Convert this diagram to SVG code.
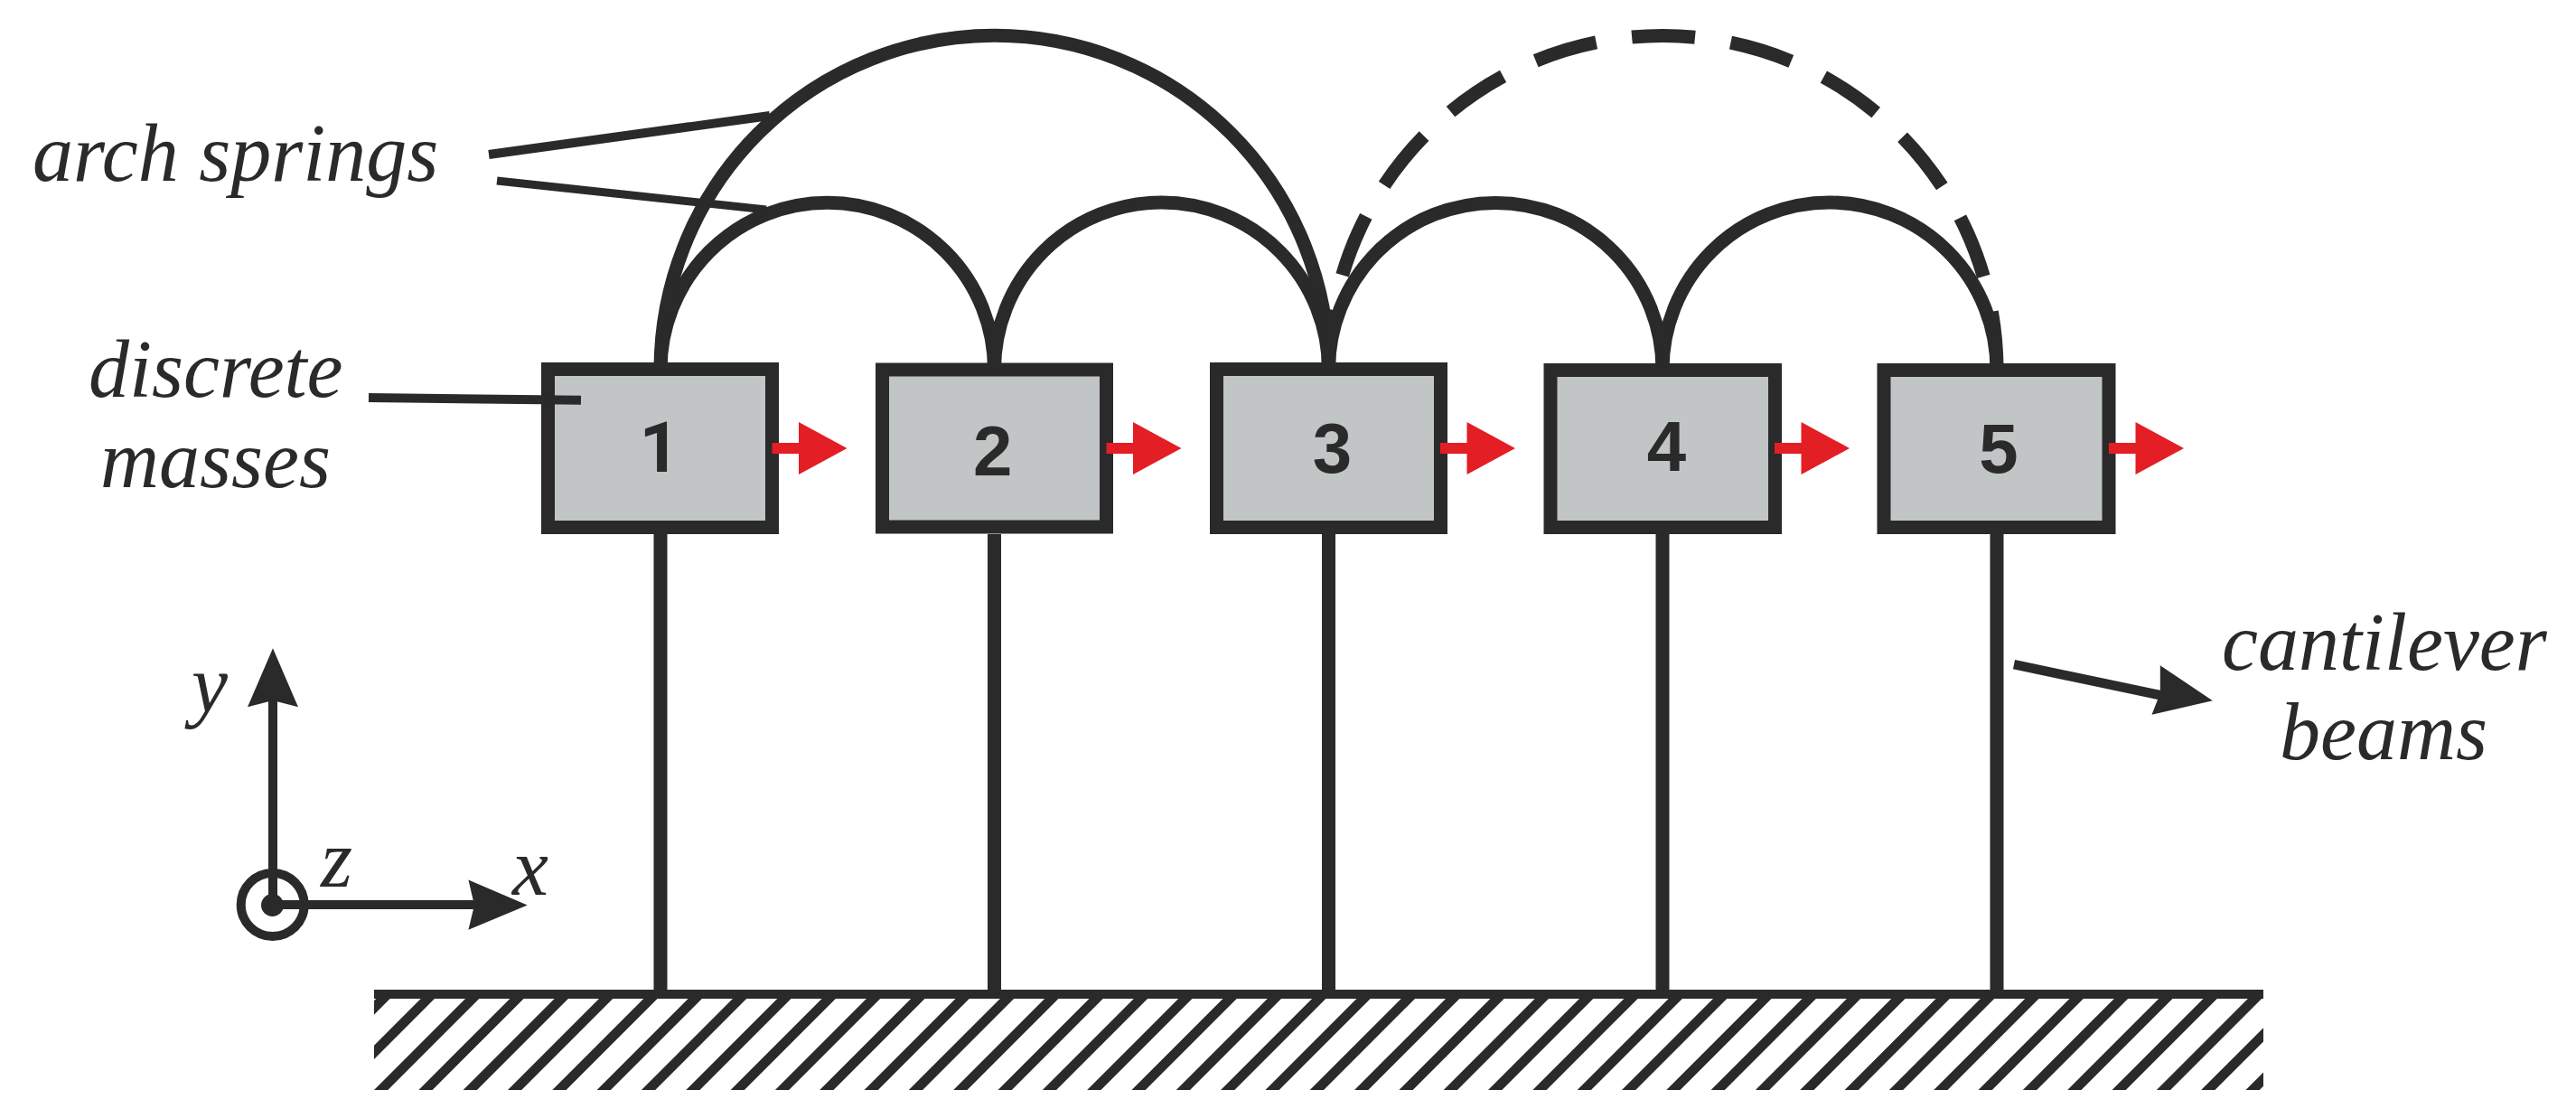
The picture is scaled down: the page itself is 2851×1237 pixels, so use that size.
<svg xmlns="http://www.w3.org/2000/svg" xmlns:xlink="http://www.w3.org/1999/xlink" width="2851" height="1237" viewBox="0 0 2851 1237">
<style>
.ln{fill:none;stroke:#2b2a2b;stroke-width:15}
.thin{fill:none;stroke:#2b2a2b;stroke-width:10}
.hd{fill:#2b2a2b;stroke:none}
.box{fill:#c1c5c6;stroke:#2b2a2b;stroke-width:15}
.num{font-family:"Liberation Sans",Arial,sans-serif;font-weight:700;font-size:78px;fill:#2b2a2b;text-anchor:middle}
.lab{font-family:"Liberation Serif","Times New Roman",serif;font-style:italic;font-size:90px;fill:#2b2a2b}
</style>
<defs>
<g id="force"><rect x="0" y="490" width="30" height="12" fill="#e31e24"/><polygon points="29.5,467 83,496 29.5,525" fill="#e31e24"/></g>
<clipPath id="gclip"><rect x="414" y="1105" width="2091" height="101"/></clipPath>
</defs>
<rect width="2851" height="1237" fill="#fff"/>
<g id="connectors">
<path class="ln" d="M731 409A100 100 0 0 1 1100.5 409A100 100 0 0 1 1470.5 409A100 100 0 0 1 1840 409A100 100 0 0 1 2210 409"/>
<path class="ln" d="M731 409A100 100 0 0 1 1470.5 409"/>
<path class="ln" stroke-dasharray="70 40" stroke-dashoffset="3.8" d="M1470.5 409A100 100 0 0 1 2210 409"/>
<path class="ln" d="M731 591V1095M1100.5 591V1095M1470.5 591V1095M1840 591V1095M2210 591V1095"/>
<path class="thin" d="M541 171L852 128"/>
<path class="thin" style="stroke-width:9" d="M550 200L848 232"/>
</g>
<g id="ground">
<rect class="hd" x="414" y="1095" width="2091" height="10"/>
<g clip-path="url(#gclip)"><path fill="none" stroke="#2b2a2b" stroke-width="10.8" d="M263.69 1216l121-121m-71.68 121l121-121m-71.68 121l121-121m-71.68 121l121-121m-71.68 121l121-121m-71.68 121l121-121m-71.68 121l121-121m-71.68 121l121-121m-71.68 121l121-121m-71.68 121l121-121m-71.68 121l121-121m-71.68 121l121-121m-71.68 121l121-121m-71.68 121l121-121m-71.68 121l121-121m-71.68 121l121-121m-71.68 121l121-121m-71.68 121l121-121m-71.68 121l121-121m-71.68 121l121-121m-71.68 121l121-121m-71.68 121l121-121m-71.68 121l121-121m-71.68 121l121-121m-71.68 121l121-121m-71.68 121l121-121m-71.68 121l121-121m-71.68 121l121-121m-71.68 121l121-121m-71.68 121l121-121m-71.68 121l121-121m-71.68 121l121-121m-71.68 121l121-121m-71.68 121l121-121m-71.68 121l121-121m-71.68 121l121-121m-71.68 121l121-121m-71.68 121l121-121m-71.68 121l121-121m-71.68 121l121-121m-71.68 121l121-121m-71.68 121l121-121m-71.68 121l121-121m-71.68 121l121-121m-71.68 121l121-121m-71.68 121l121-121"/></g>
</g>
<g id="mass1"><rect class="box" x="606.5" y="408.5" width="248" height="175"/><text class="num" style="font-family:Roboto,'Liberation Sans',sans-serif" x="730" y="522">1</text></g>
<g id="mass2"><rect class="box" x="976.5" y="409" width="248" height="174"/><text class="num" x="1098.7" y="526">2</text></g>
<g id="mass3"><rect class="box" x="1346.5" y="408.5" width="248" height="175"/><text class="num" x="1474.5" y="523">3</text></g>
<g id="mass4"><rect class="box" x="1716" y="409.5" width="248.5" height="174"/><text class="num" x="1844.5" y="521">4</text></g>
<g id="mass5"><rect class="box" x="2085" y="409.5" width="249" height="174"/><text class="num" x="2212" y="523">5</text></g>
<g id="forces">
<use xlink:href="#force" href="#force" x="854.5"/>
<use xlink:href="#force" href="#force" x="1224.5"/>
<use xlink:href="#force" href="#force" x="1594"/>
<use xlink:href="#force" href="#force" x="1964"/>
<use xlink:href="#force" href="#force" x="2334"/>
</g>
<g id="leader-masses"><path class="thin" d="M408 440L643 442.7"/></g>
<g id="leader-beams"><path class="thin" style="stroke-width:10.5" d="M2229 735.2L2395 770"/><polygon class="hd" points="2448.8,775.2 2381.5,790.8 2390.8,767 2390.8,736.3"/></g>
<g id="axes">
<path class="thin" d="M302 1001V775M302 1001H525"/>
<polygon class="hd" points="302,717.3 330,782.3 302,775 274,782.3"/>
<polygon class="hd" points="583.7,1001.5 518.4,1028.8 525,1001.5 518.4,973.4"/>
<circle cx="301.7" cy="1001" r="35" class="thin"/>
<circle cx="301.5" cy="1001.5" r="12.5" class="hd"/>
<text class="lab" x="212" y="788">y</text>
<text class="lab" x="355" y="981">z</text>
<text class="lab" x="567" y="990">x</text>
</g>
<g id="labels">
<text class="lab" x="36" y="200">arch springs</text>
<text class="lab" x="98" y="439">discrete</text>
<text class="lab" x="111" y="538.5">masses</text>
<text class="lab" x="2459" y="741">cantilever</text>
<text class="lab" x="2523" y="840">beams</text>
</g>
</svg>
